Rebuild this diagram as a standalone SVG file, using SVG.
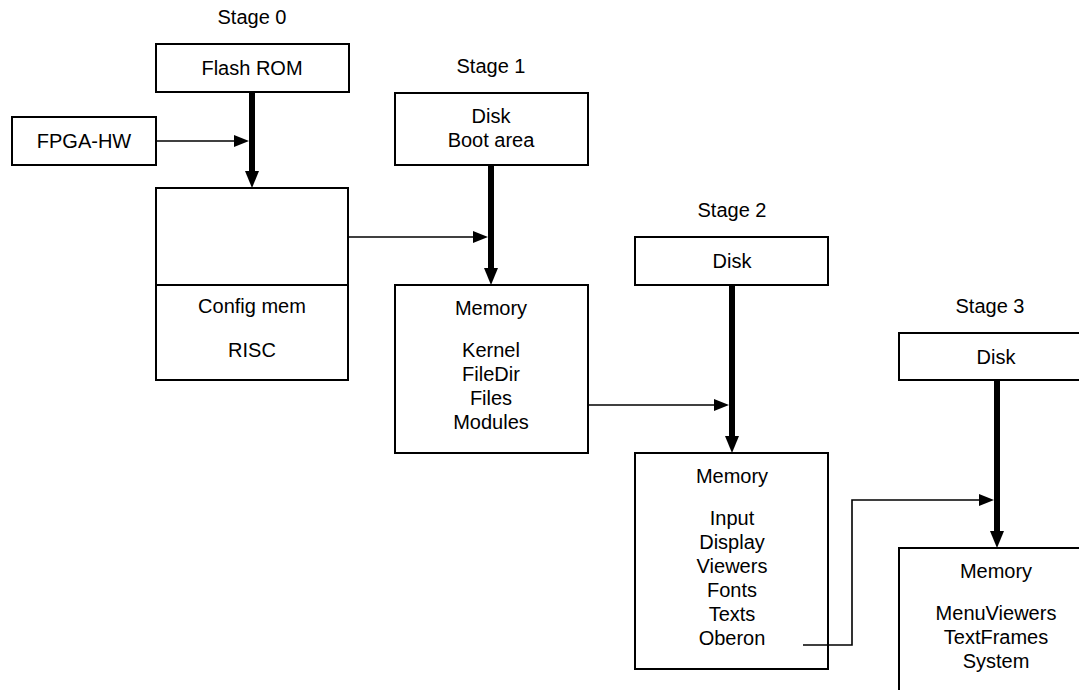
<svg xmlns="http://www.w3.org/2000/svg" width="1079" height="690" viewBox="0 0 1079 690">
<style>
.box{fill:#fff;stroke:#000;stroke-width:2}
text{font-family:"Liberation Sans",Arial,sans-serif;font-size:20px;fill:#000;text-anchor:middle}
.thick{stroke:#000;stroke-width:6;fill:none}
.thin{stroke:#000;stroke-width:1.6;fill:none}
</style>
<defs>
<marker id="ah" markerUnits="userSpaceOnUse" markerWidth="20" markerHeight="16" refX="0" refY="7" orient="auto" overflow="visible"><path d="M0,0 L17,7 L0,14 z" fill="#000"/></marker>
<marker id="at" markerUnits="userSpaceOnUse" markerWidth="16" markerHeight="14" refX="0" refY="6" orient="auto" overflow="visible"><path d="M0,0 L15,6 L0,12 z" fill="#000"/></marker>
</defs>
<g id="labels">
<text x="252" y="24">Stage 0</text>
<text x="491" y="73">Stage 1</text>
<text x="732" y="217">Stage 2</text>
<text x="990" y="313">Stage 3</text>
</g>
<g id="flashrom"><rect class="box" x="156" y="44" width="193" height="48"/><text x="252" y="75">Flash ROM</text></g>
<g id="fpga"><rect class="box" x="12" y="117" width="144" height="48"/><text x="84" y="148">FPGA-HW</text></g>
<g id="risc"><rect class="box" x="156" y="188" width="192" height="192"/><line x1="156" y1="285" x2="348" y2="285" stroke="#000" stroke-width="2"/><text x="252" y="313">Config mem</text><text x="252" y="357">RISC</text></g>
<g id="disk1"><rect class="box" x="395" y="93" width="193" height="72"/><text x="491" y="123">Disk</text><text x="491" y="147">Boot area</text></g>
<g id="mem1"><rect class="box" x="395" y="285" width="193" height="168"/><text x="491" y="315">Memory</text><text x="491" y="357">Kernel</text><text x="491" y="381">FileDir</text><text x="491" y="405">Files</text><text x="491" y="429">Modules</text></g>
<g id="disk2"><rect class="box" x="635" y="237" width="193" height="48"/><text x="732" y="268">Disk</text></g>
<g id="mem2"><rect class="box" x="635" y="453" width="193" height="216"/><text x="732" y="483">Memory</text><text x="732" y="525">Input</text><text x="732" y="549">Display</text><text x="732" y="573">Viewers</text><text x="732" y="597">Fonts</text><text x="732" y="621">Texts</text><text x="732" y="645">Oberon</text></g>
<g id="disk3"><rect class="box" x="899" y="333" width="196" height="47"/><text x="996" y="364">Disk</text></g>
<g id="mem3"><rect class="box" x="899" y="548" width="196" height="160"/><text x="996" y="578">Memory</text><text x="996" y="620">MenuViewers</text><text x="996" y="644">TextFrames</text><text x="996" y="668">System</text></g>
<g id="connectors">
<line class="thick" x1="252" y1="92" x2="252" y2="171" marker-end="url(#ah)"/>
<line class="thin" x1="156" y1="141" x2="234" y2="141" marker-end="url(#at)"/>
<line class="thick" x1="491" y1="165" x2="491" y2="268" marker-end="url(#ah)"/>
<line class="thin" x1="348" y1="237" x2="473" y2="237" marker-end="url(#at)"/>
<line class="thick" x1="732" y1="285" x2="732" y2="436" marker-end="url(#ah)"/>
<line class="thin" x1="588" y1="405" x2="714" y2="405" marker-end="url(#at)"/>
<line class="thick" x1="997" y1="380" x2="997" y2="531" marker-end="url(#ah)"/>
<path class="thin" d="M803,645 H852 V500 H979" marker-end="url(#at)"/>
</g>
</svg>
